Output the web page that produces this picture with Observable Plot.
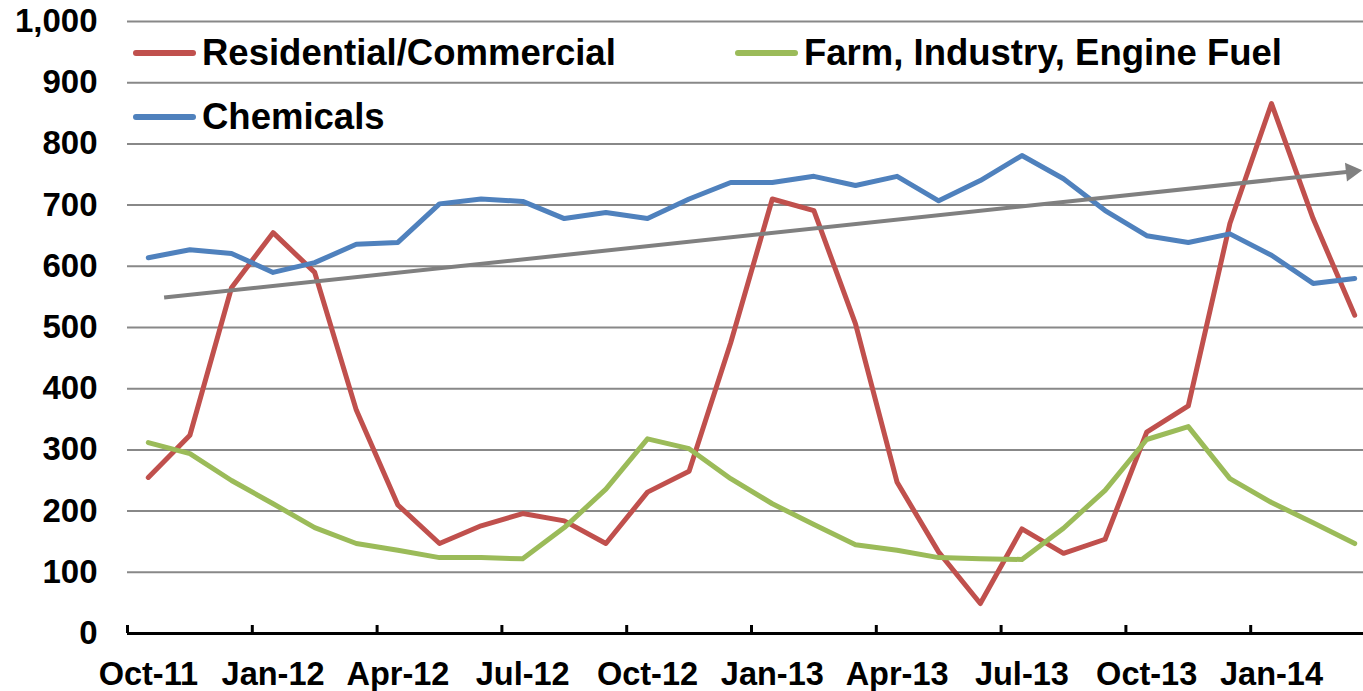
<!DOCTYPE html>
<html><head><meta charset="utf-8">
<script src="https://cdn.jsdelivr.net/npm/d3@7"></script>
<script src="https://cdn.jsdelivr.net/npm/@observablehq/plot@0.6"></script>
<style>
body{margin:0;background:#fff;}
#wrap{position:relative;width:1363px;height:691px;font-family:"Liberation Sans",Arial,sans-serif;font-weight:bold;}
.item{position:absolute;display:flex;align-items:center;height:36px;font-size:36.5px;line-height:36px;color:#000;white-space:nowrap;}
.sw{width:63px;height:6px;border-radius:3px;margin-right:6px;}
</style></head><body><div id="wrap"></div>
<script>
const months = ["Oct-11","Nov-11","Dec-11","Jan-12","Feb-12","Mar-12","Apr-12","May-12","Jun-12","Jul-12","Aug-12","Sep-12",
  "Oct-12","Nov-12","Dec-12","Jan-13","Feb-13","Mar-13","Apr-13","May-13","Jun-13","Jul-13","Aug-13","Sep-13",
  "Oct-13","Nov-13","Dec-13","Jan-14","Feb-14","Mar-14"];
const residential = [255,324,565,655,590,365,210,147,176,196,184,147,231,265,475,710,691,506,247,133,49,171,131,154,329,372,670,866,678,520];
const farm = [312,294,250,212,173,147,136,124,124,122,173,236,318,302,253,212,178,145,136,124,122,121,172,234,317,338,253,214,181,147];
const chemicals = [614,627,621,590,606,636,639,702,710,706,678,688,678,710,737,737,747,732,747,707,740,781,743,691,650,639,653,618,572,580];
const seriesNames = ["Residential/Commercial","Farm, Industry, Engine Fuel","Chemicals"];
const seriesColors = ["#C0504D","#9BBB59","#4F81BD"];
const yTicks = [0,100,200,300,400,500,600,700,800,900,1000];
const xTickIdx = [0,3,6,9,12,15,18,21,24,27];
const trend = {x1:0.38, y1:549, x2:28.92, y2:755};

const W=1363,H=691,mt=21,mb=58,ml=127,step=41.6;
const toRows = (vals, s) => vals.map((v,i)=>({i, m:months[i], v, s}));
const allSeries = [residential, farm, chemicals];

const lineMarks = allSeries.map((vals,k)=>Plot.line(toRows(vals, seriesNames[k]), {
  x:"i", y:"v", stroke:seriesColors[k], strokeWidth:5, strokeLinejoin:"round", strokeLinecap:"round"
}));

const chart = Plot.plot({
  width:W, height:H, marginTop:mt, marginBottom:mb, marginLeft:ml, marginRight:0,
  style:{fontFamily:"'Liberation Sans', Arial, sans-serif", fontWeight:"bold", color:"#000", background:"#fff", overflow:"hidden"},
  x:{domain:[-0.5, months.length-0.5], range:[ml, ml+months.length*step], label:null},
  y:{domain:[0,1000], label:null},
  marks:[
    Plot.ruleY(yTicks.filter(d=>d>0), {stroke:"#888", strokeWidth:2}),
    Plot.axisY({ticks:yTicks, tickSize:0, tickPadding:30, tickFormat:d3.format(","), fontSize:33, label:null}),
    Plot.axisX({ticks:xTickIdx, tickSize:0, tickPadding:28, tickFormat:i=>months[i], fontSize:32.5, label:null}),
    Plot.ruleY([0], {stroke:"#000", strokeWidth:3}),
    Plot.ruleX(xTickIdx.map(i=>i-0.5), {x:d=>d, insetTop:H-mt-mb-8, stroke:"#000", strokeWidth:3}),
    ...lineMarks,
    Plot.link([trend], {x1:"x1", y1:"y1", x2:"x2", y2:"y2", stroke:"#808080", strokeWidth:4}),
    Plot.dot([trend], {x:"x2", y:"y2", symbol:"triangle", r:7, fill:"#808080", stroke:null, rotate:84})
  ]
});
const wrap = document.getElementById("wrap");
wrap.appendChild(chart);

const legendPos = [{left:133, top:35},{left:735, top:35},{left:133, top:99}];
seriesNames.forEach((n,k)=>{
  const d = document.createElement("div");
  d.className = "item";
  d.style.left = legendPos[k].left + "px";
  d.style.top = legendPos[k].top + "px";
  const sw = document.createElement("div");
  sw.className = "sw";
  sw.style.background = seriesColors[k];
  const t = document.createElement("span");
  t.textContent = n;
  d.appendChild(sw); d.appendChild(t);
  wrap.appendChild(d);
});
</script></body></html>
